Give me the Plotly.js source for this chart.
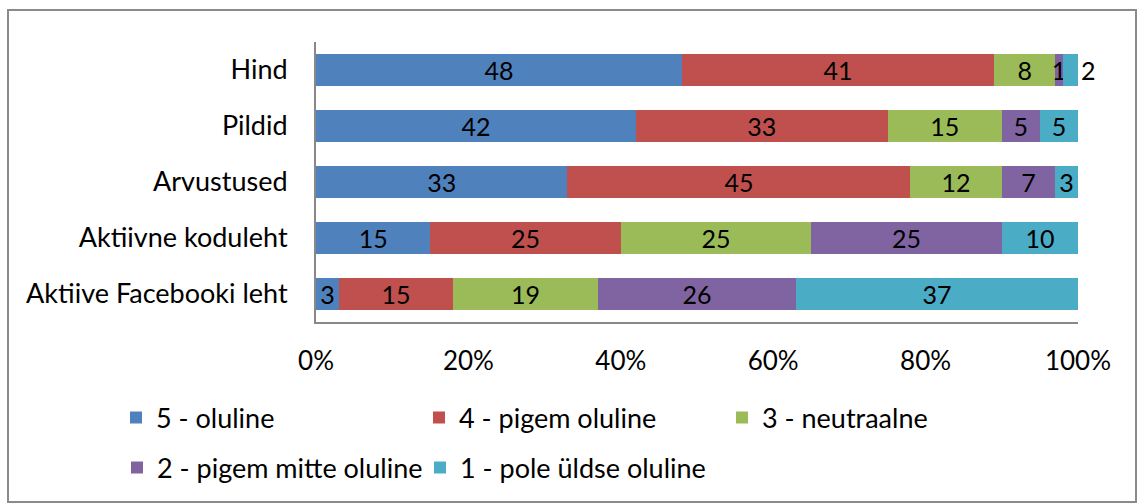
<!DOCTYPE html>
<html>
<head>
<meta charset="utf-8">
<script src="https://cdn.plot.ly/plotly-3.0.1.min.js"></script>
<style>html,body{margin:0;padding:0;background:#fff;}#chart{width:1139px;height:504px;}</style>
</head>
<body>
<div id="chart"></div>
<script>
const categories = ["Hind", "Pildid", "Arvustused", "Aktiivne koduleht", "Aktiive Facebooki leht"];
const seriesNames = ["5 - oluline", "4 - pigem oluline", "3 - neutraalne", "2 - pigem mitte oluline", "1 - pole üldse oluline"];
const s5 = [48, 42, 33, 15, 3];
const s4 = [41, 33, 45, 25, 15];
const s3 = [8, 15, 12, 25, 19];
const s2 = [1, 5, 7, 25, 26];
const s1 = [2, 5, 3, 10, 37];
const xTicks = [0, 20, 40, 60, 80, 100];
const xTickLabels = ["0%", "20%", "40%", "60%", "80%", "100%"];

const colors = ["#4F81BD", "#C0504D", "#9BBB59", "#8064A2", "#4BACC6"];
const FONT = "Lato, 'Liberation Sans', sans-serif";
const allSeries = [s5, s4, s3, s2, s1];

const traces = allSeries.map((vals, i) => {
  const isLast = i === allSeries.length - 1;
  return {
    type: "bar",
    orientation: "h",
    name: seriesNames[i],
    y: categories,
    x: vals,
    text: vals.map(String),
    textposition: isLast ? categories.map(c => c === "Hind" ? "outside" : "inside") : "inside",
    textangle: 0,
    constraintext: "none",
    insidetextanchor: "middle",
    textfont: {family: FONT, size: 25, color: "#000"},
    insidetextfont: {family: FONT, size: 25, color: "#000"},
    outsidetextfont: {family: FONT, size: 25, color: "#000"},
    cliponaxis: false,
    marker: {color: colors[i], line: {width: 0}},
    legend: i < 3 ? "legend" : "legend2",
    hoverinfo: "x+y+name"
  };
});

const W = 762, H = 280, L = 316, T = 42;
const px = x => (x - L) / W;
const py = y => (T + H - y) / H;

const layout = {
  width: 1139, height: 504,
  margin: {l: L, r: 1139 - L - W, t: T, b: 504 - T - H, pad: 0},
  paper_bgcolor: "#fff", plot_bgcolor: "#fff",
  barmode: "stack",
  bargap: 0.43,
  font: {family: FONT, size: 25, color: "#000"},
  xaxis: {
    range: [0, 100], tickvals: xTicks, ticktext: xTickLabels,
    showgrid: false, zeroline: false, showline: true, linecolor: "#888", linewidth: 2,
    ticks: "", ticklabelstandoff: 15, tickfont: {family: FONT, size: 26, color: "#000"},
    fixedrange: true
  },
  yaxis: {
    categoryorder: "array", categoryarray: categories, autorange: "reversed",
    showgrid: false, zeroline: false, showline: true, linecolor: "#888", linewidth: 2,
    ticks: "", ticklabelstandoff: 21, tickfont: {family: FONT, size: 27, color: "#000"},
    fixedrange: true
  },
  showlegend: true,
  legend: {
    orientation: "h", x: px(116), xanchor: "left", y: py(418), yanchor: "middle",
    entrywidth: 258, entrywidthmode: "pixels", font: {family: FONT, size: 27, color: "#000"},
    bgcolor: "rgba(0,0,0,0)", traceorder: "normal"
  },
  legend2: {
    orientation: "h", x: px(117), xanchor: "left", y: py(468), yanchor: "middle",
    entrywidth: 258, entrywidthmode: "pixels", font: {family: FONT, size: 27, color: "#000"},
    bgcolor: "rgba(0,0,0,0)", traceorder: "normal"
  },
  shapes: [{
    type: "rect", xref: "paper", yref: "paper",
    x0: px(8), x1: px(1136), y0: py(502), y1: py(10),
    line: {color: "#8a8a8a", width: 2}, fillcolor: "rgba(0,0,0,0)", layer: "below"
  }]
};

Plotly.newPlot("chart", traces, layout, {displayModeBar: false, staticPlot: true});
</script>
</body>
</html>
